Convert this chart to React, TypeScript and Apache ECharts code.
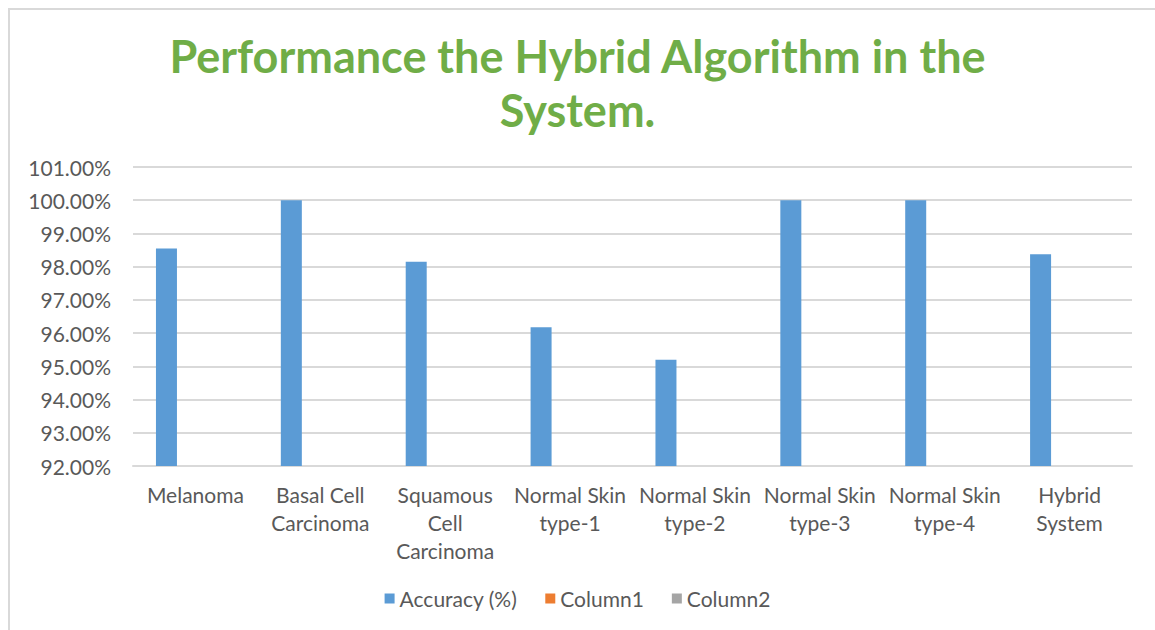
import React, { useEffect, useRef } from "react";
import * as echarts from "echarts";

const categories = [
  "Melanoma",
  "Basal Cell Carcinoma",
  "Squamous Cell Carcinoma",
  "Normal Skin type-1",
  "Normal Skin type-2",
  "Normal Skin type-3",
  "Normal Skin type-4",
  "Hybrid System",
];
const accuracy = [98.55, 100.0, 98.15, 96.18, 95.2, 100.0, 100.0, 98.37];
const column1: (number | null)[] = [null, null, null, null, null, null, null, null];
const column2: (number | null)[] = [null, null, null, null, null, null, null, null];
const seriesNames = ["Accuracy (%)", "Column1", "Column2"];
const colors = ["#5B9BD5", "#ED7D31", "#A5A5A5"];
const titleText = "Performance the Hybrid Algorithm in the\nSystem.";

function wrap(name: string, max: number): string {
  const words = name.split(" ");
  const lines: string[] = [];
  let cur = "";
  for (const w of words) {
    if (!cur) cur = w;
    else if ((cur + " " + w).length <= max) cur += " " + w;
    else {
      lines.push(cur);
      cur = w;
    }
  }
  if (cur) lines.push(cur);
  return lines.join("\n");
}

export default function App() {
  const ref = useRef<HTMLDivElement>(null);
  useEffect(() => {
    const chart = echarts.init(ref.current!, null, { renderer: "svg" });
    const font = "Lato, 'Open Sans', sans-serif";
    const barCommon = { type: "bar" as const, barWidth: 21, barGap: "38%" };
    chart.setOption({
      animation: false,
      color: colors,
      textStyle: { fontFamily: font },
      title: {
        text: titleText,
        left: "center",
        top: 24,
        textStyle: {
          color: "#70AD47",
          fontSize: 45,
          fontWeight: "bold",
          fontFamily: font,
          lineHeight: 54,
        },
      },
      legend: {
        bottom: 16,
        left: "center",
        itemWidth: 10,
        itemHeight: 10,
        itemGap: 28,
        icon: "rect",
        data: seriesNames,
        textStyle: { color: "#595959", fontSize: 21, fontFamily: font },
      },
      grid: { left: 133, right: 23, top: 167, bottom: 164 },
      xAxis: {
        type: "category",
        data: categories,
        axisLine: { show: true, lineStyle: { color: "#D9D9D9", width: 2 } },
        axisTick: { show: false },
        axisLabel: {
          color: "#595959",
          fontSize: 21,
          lineHeight: 28,
          margin: 14,
          interval: 0,
          fontFamily: font,
          formatter: (v: string) => wrap(v, 11),
        },
      },
      yAxis: {
        type: "value",
        min: 92,
        max: 101,
        interval: 1,
        axisLine: { show: false },
        axisTick: { show: false },
        splitLine: { lineStyle: { color: "#D9D9D9", width: 2 } },
        axisLabel: {
          color: "#595959",
          fontSize: 21,
          margin: 22,
          fontFamily: font,
          formatter: (v: number) => v.toFixed(2) + "%",
        },
      },
      series: [
        { ...barCommon, name: seriesNames[0], data: accuracy },
        { ...barCommon, name: seriesNames[1], data: column1 },
        { ...barCommon, name: seriesNames[2], data: column2 },
      ],
      graphic: [
        { type: "line", shape: { x1: 9, y1: 9, x2: 1155, y2: 9 }, style: { stroke: "#D9D9D9", lineWidth: 2 } },
        { type: "line", shape: { x1: 9, y1: 8, x2: 9, y2: 630 }, style: { stroke: "#D9D9D9", lineWidth: 2 } },
      ],
    });
    return () => chart.dispose();
  }, []);
  return (
    <div
      ref={ref}
      style={{ position: "absolute", left: 0, top: 0, width: 1155, height: 630, background: "#fff" }}
    />
  );
}
